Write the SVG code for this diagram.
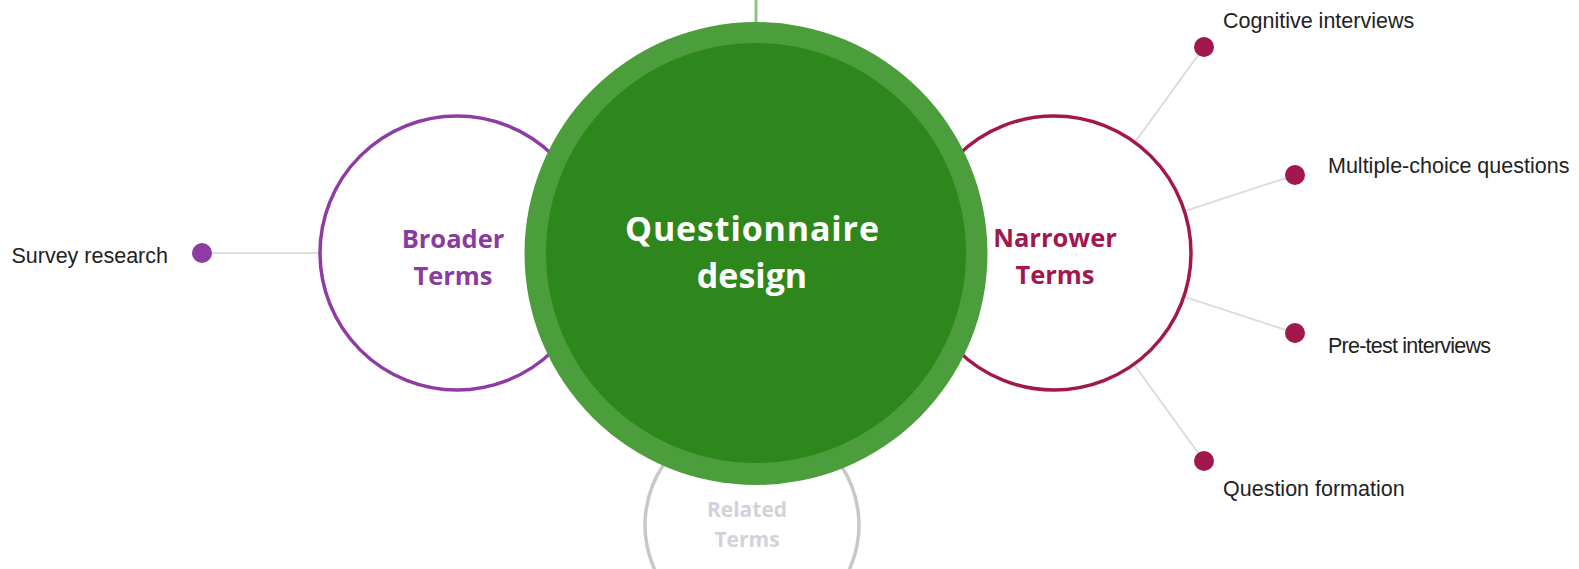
<svg xmlns="http://www.w3.org/2000/svg" width="1579" height="569" viewBox="0 0 1579 569">
<style>
.conn{stroke:#dcdcdc;stroke-width:2;fill:none}
.lbl{font-family:"Liberation Sans",Arial,sans-serif;font-size:21.5px;fill:#222}
.term{font-family:"Open Sans","Noto Sans",sans-serif;font-weight:bold;text-anchor:middle}
.ring{fill:#fff;stroke-width:3.5}
</style>
<rect width="1579" height="569" fill="#fff"/>
<g id="connectors">
<line class="conn" x1="202" y1="253" x2="457" y2="253"/>
<line class="conn" x1="1204" y1="47" x2="1054" y2="254"/>
<line class="conn" x1="1295" y1="175" x2="1054" y2="254"/>
<line class="conn" x1="1295" y1="333" x2="1054" y2="254"/>
<line class="conn" x1="1204" y1="461" x2="1054" y2="254"/>
<line x1="756" y1="0" x2="756" y2="30" stroke="#8fc27f" stroke-width="3"/>
</g>
<g id="survey-research">
<circle cx="202" cy="253" r="10" fill="#8e3ba3"/>
<text class="lbl" x="168" y="263" text-anchor="end">Survey research</text>
</g>
<g id="cognitive-interviews">
<circle cx="1204" cy="47" r="10" fill="#a3174f"/>
<text class="lbl" x="1223" y="28">Cognitive interviews</text>
</g>
<g id="multiple-choice-questions">
<circle cx="1295" cy="175" r="10" fill="#a3174f"/>
<text class="lbl" x="1328" y="173">Multiple-choice questions</text>
</g>
<g id="pre-test-interviews">
<circle cx="1295" cy="333" r="10" fill="#a3174f"/>
<text class="lbl" x="1328" y="353" textLength="163">Pre-test interviews</text>
</g>
<g id="question-formation">
<circle cx="1204" cy="461" r="10" fill="#a3174f"/>
<text class="lbl" x="1223" y="496">Question formation</text>
</g>
<g id="related-terms">
<circle class="ring" cx="752" cy="525" r="107" stroke="#c8c8c8" stroke-width="2.5"/>
<text class="term" x="747" y="517" font-size="21" fill="#d2d2da">Related</text>
<text class="term" x="747" y="547" font-size="21" fill="#d2d2da">Terms</text>
</g>
<g id="broader-terms">
<circle class="ring" cx="457" cy="253" r="137" stroke="#8e3ba3"/>
<text class="term" x="453" y="248" font-size="25.5" fill="#8a3c9e">Broader</text>
<text class="term" x="453" y="285" font-size="25.5" fill="#8a3c9e">Terms</text>
</g>
<g id="narrower-terms">
<circle class="ring" cx="1054" cy="253" r="137" stroke="#a3174f"/>
<text class="term" x="1055" y="247" font-size="25.5" fill="#a3174f">Narrower</text>
<text class="term" x="1055" y="284" font-size="25.5" fill="#a3174f">Terms</text>
</g>
<g id="questionnaire-design">
<circle cx="756" cy="253.5" r="231.5" fill="#4b9e3b"/>
<circle cx="756" cy="253" r="210" fill="#2e871c"/>
<text class="term" x="752" y="241" font-size="34" fill="#fff" textLength="254">Questionnaire</text>
<text class="term" x="752" y="287.5" font-size="34" fill="#fff">design</text>
</g>
</svg>
